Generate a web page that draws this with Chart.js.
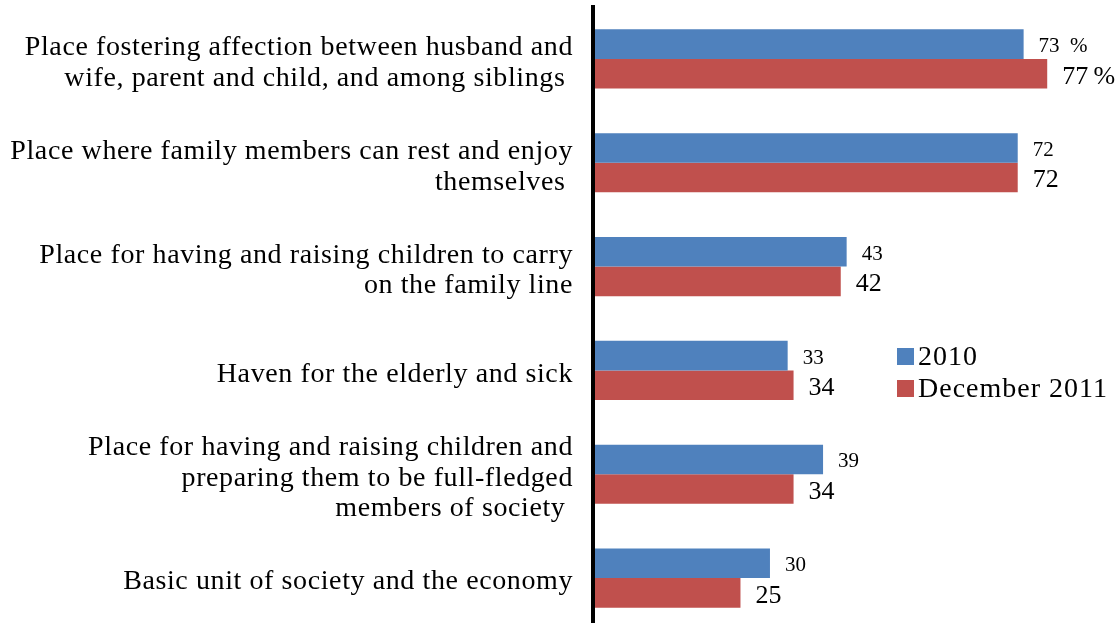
<!DOCTYPE html>
<html>
<head>
<meta charset="utf-8">
<script src="https://cdn.jsdelivr.net/npm/chart.js@4.4.1/dist/chart.umd.min.js"></script>
<style>
  html, body { margin: 0; padding: 0; background: #fff; overflow: hidden; }
  #wrap { position: relative; width: 1118px; height: 640px; }
</style>
</head>
<body>
<div id="wrap"><canvas id="chart" width="1118" height="640"></canvas></div>
<script>
// Roles of the family, two survey rounds (%).
const categories = [
  ['Place fostering affection between husband and', 'wife, parent and child, and among siblings '],
  ['Place where family members can rest and enjoy', 'themselves '],
  ['Place for having and raising children to carry', 'on the family line'],
  ['Haven for the elderly and sick'],
  ['Place for having and raising children and', 'preparing them to be full-fledged', 'members of society '],
  ['Basic unit of society and the economy'],
];
const seriesNames = ['2010', 'December 2011'];
const values2010 = [73, 72, 43, 33, 39, 30];
const valuesDec2011 = [77, 72, 42, 34, 34, 25];
// the first row carries a percent sign after the number
const pctSuffix = ['  %', '\u2009%'];

const SERIF = '"Liberation Serif", "Times New Roman", serif';
const BLUE = '#4f81bd';
const RED = '#c0504d';

// slightly loose tracking for the category text
const tracking = {
  id: 'tracking',
  beforeUpdate(chart) { chart.ctx.letterSpacing = '0.6px'; },
  beforeDraw(chart) { chart.ctx.letterSpacing = '0.6px'; },
};

// value text beside each bar end
const valueLabels = {
  id: 'valueLabels',
  afterDatasetsDraw(chart) {
    const { ctx } = chart;
    const sizes = [21, 26];
    const dy = [2.5, 3];
    chart.data.datasets.forEach((ds, di) => {
      const meta = chart.getDatasetMeta(di);
      ctx.save();
      ctx.letterSpacing = '0px';
      ctx.font = `${sizes[di]}px ${SERIF}`;
      ctx.fillStyle = '#000';
      ctx.textAlign = 'left';
      ctx.textBaseline = 'middle';
      meta.data.forEach((bar, i) => {
        const txt = String(ds.data[i]) + (i === 0 ? pctSuffix[di] : '');
        ctx.fillText(txt, bar.x + 15, bar.y + dy[di]);
      });
      ctx.restore();
    });
  },
};

// legend box placed to the right of the shorter bars
const sideLegend = {
  id: 'sideLegend',
  afterDraw(chart) {
    const { ctx } = chart;
    ctx.save();
    ctx.letterSpacing = '1px';
    ctx.font = `28px ${SERIF}`;
    ctx.textBaseline = 'middle';
    ctx.textAlign = 'left';
    chart.data.datasets.forEach((ds, i) => {
      const y = 357 + i * 32;
      ctx.fillStyle = ds.backgroundColor;
      ctx.fillRect(897, y - 9, 17, 17);
      ctx.fillStyle = '#000';
      ctx.fillText(ds.label, 918, y + 1);
    });
    ctx.restore();
  },
};

new Chart(document.getElementById('chart'), {
  type: 'bar',
  data: {
    labels: categories,
    datasets: [
      { label: seriesNames[0], data: values2010, backgroundColor: BLUE },
      { label: seriesNames[1], data: valuesDec2011, backgroundColor: RED },
    ],
  },
  options: {
    indexAxis: 'y',
    responsive: false,
    animation: false,
    layout: { padding: { top: 7, bottom: 10, left: 0, right: 0 } },
    datasets: { bar: { categoryPercentage: 0.57, barPercentage: 1.0 } },
    plugins: { legend: { display: false }, tooltip: { enabled: false } },
    scales: {
      x: { display: false, min: 0, max: 89 },
      y: {
        afterFit(scale) {
          scale.width = 593;
          scale.paddingTop = 0;
          scale.paddingBottom = 0;
        },
        grid: { display: false, drawTicks: false },
        border: { display: true, color: '#000', width: 4, z: 1 },
        ticks: {
          color: '#000',
          padding: 20,
          labelOffset: 4,
          font: { family: SERIF, size: 28, lineHeight: 1.1 },
        },
      },
    },
  },
  plugins: [tracking, valueLabels, sideLegend],
});
</script>
</body>
</html>
